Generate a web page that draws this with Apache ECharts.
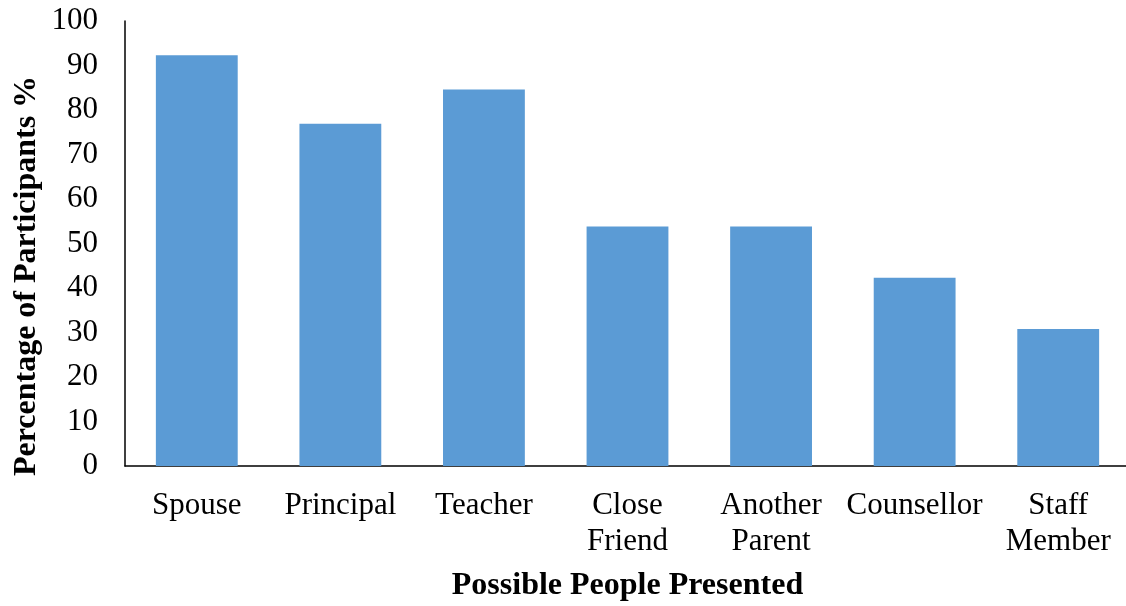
<!DOCTYPE html>
<html>
<head>
<meta charset="utf-8">
<script src="https://cdn.jsdelivr.net/npm/echarts@6/dist/echarts.min.js"></script>
<style>
  html, body { margin: 0; padding: 0; background: #fff; }
  #chart { width: 1126px; height: 606px; }
</style>
</head>
<body>
<div id="chart"></div>
<script>
const categories = ['Spouse', 'Principal', 'Teacher', 'Close\nFriend', 'Another\nParent', 'Counsellor', 'Staff\nMember'];
const percentages = [92.3, 76.9, 84.6, 53.8, 53.8, 42.3, 30.8];
const yTicks = { min: 0, max: 100, interval: 10 };

const font = '"Liberation Serif", "Times New Roman", serif';
const chart = echarts.init(document.getElementById('chart'), null, { renderer: 'canvas' });

chart.setOption({
  animation: false,
  grid: {
    left: 125,
    right: -4,
    top: 21,
    bottom: 140,
    outerBoundsMode: 'none'
  },
  xAxis: {
    type: 'category',
    data: categories,
    name: 'Possible People Presented',
    nameLocation: 'middle',
    nameGap: 104,
    nameTextStyle: { fontFamily: font, fontSize: 32, fontWeight: 'bold', color: '#000' },
    axisLine: { lineStyle: { color: '#000', width: 1.5 } },
    axisTick: { show: false },
    axisLabel: {
      interval: 0,
      margin: 22,
      fontFamily: font,
      fontSize: 31,
      lineHeight: 36,
      color: '#000'
    }
  },
  yAxis: {
    type: 'value',
    min: yTicks.min,
    max: yTicks.max,
    interval: yTicks.interval,
    splitLine: { show: false },
    axisLine: { show: true, lineStyle: { color: '#000', width: 1.5 } },
    axisTick: { show: false },
    axisLabel: {
      margin: 27,
      fontFamily: font,
      fontSize: 31,
      color: '#000'
    }
  },
  graphic: [
    {
      type: 'text',
      x: 27,
      y: 276,
      rotation: Math.PI / 2,
      style: {
        text: 'Percentage of Participants %',
        fontFamily: font,
        fontSize: 32,
        fontWeight: 'bold',
        fill: '#000',
        align: 'center',
        verticalAlign: 'middle'
      }
    }
  ],
  series: [
    {
      type: 'bar',
      data: percentages,
      barWidth: '57%',
      itemStyle: { color: '#5B9BD5' }
    }
  ]
});
</script>
</body>
</html>
